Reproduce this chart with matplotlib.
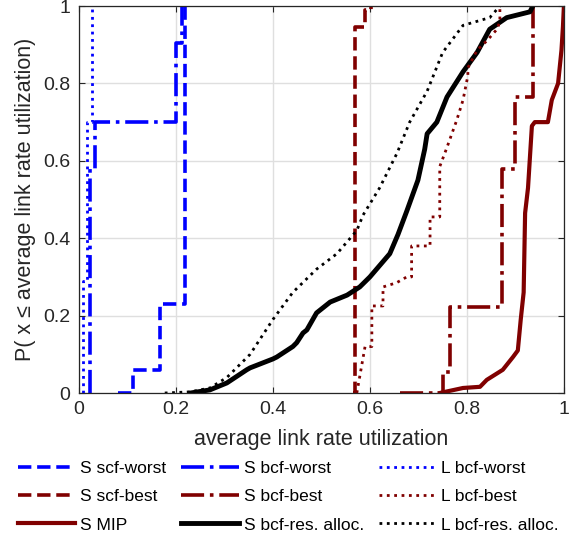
import matplotlib
matplotlib.use('Agg')
import matplotlib.pyplot as plt

plt.rcParams['font.family'] = ['Liberation Sans', 'DejaVu Sans']

blue = '#0000ff'
dred = '#800000'
txt = '#262626'

# step curves (x where the CDF jumps, level after the jump)
s_scf_worst_x = [0.080, 0.111, 0.167, 0.219]
s_scf_worst_y = [0.0, 0.06, 0.23, 1.0]

s_bcf_worst_x = [0.023, 0.023, 0.033, 0.200, 0.212]
s_bcf_worst_y = [0.0, 0.58, 0.70, 0.904, 1.0]

l_bcf_worst_x = [0.009, 0.009, 0.016, 0.028]
l_bcf_worst_y = [0.0, 0.29, 0.70, 1.0]

s_scf_best_x = [0.565, 0.569, 0.590, 0.602]
s_scf_best_y = [0.0, 0.945, 0.99, 1.0]

s_bcf_best_x = [0.662, 0.750, 0.765, 0.872, 0.899, 0.936]
s_bcf_best_y = [0.0, 0.055, 0.222, 0.58, 0.765, 1.0]

# smoother curves
l_bcf_best_x = [0.573, 0.590, 0.604, 0.604, 0.627, 0.627, 0.655, 0.676, 0.686, 0.686,
                0.718, 0.724, 0.724, 0.744, 0.744, 0.759, 0.779, 0.792, 0.802, 0.802,
                0.821, 0.841, 0.862, 0.868, 0.868]
l_bcf_best_y = [0.0, 0.12, 0.12, 0.225, 0.225, 0.274, 0.285, 0.30, 0.30, 0.38,
                0.38, 0.38, 0.455, 0.455, 0.585, 0.635, 0.705, 0.757, 0.82, 0.84,
                0.886, 0.91, 0.94, 0.96, 1.0]

s_mip_x = [0.744, 0.792, 0.827, 0.841, 0.874, 0.895, 0.905, 0.911, 0.917, 0.920,
           0.926, 0.934, 0.940, 0.967, 0.975, 0.988, 0.995, 0.998, 1.0]
s_mip_y = [0.0, 0.013, 0.016, 0.034, 0.06, 0.093, 0.11, 0.19, 0.26, 0.465,
           0.53, 0.69, 0.70, 0.70, 0.757, 0.80, 0.886, 0.946, 1.0]

s_res_x = [0.230, 0.270, 0.305, 0.346, 0.353, 0.400, 0.408, 0.441, 0.449, 0.462,
           0.470, 0.490, 0.497, 0.518, 0.553, 0.579, 0.600, 0.641, 0.658, 0.676,
           0.699, 0.713, 0.718, 0.738, 0.759, 0.792, 0.821, 0.847, 0.882, 0.930,
           0.936]
s_res_y = [0.0, 0.008, 0.026, 0.06, 0.065, 0.088, 0.093, 0.12, 0.13, 0.155,
           0.163, 0.207, 0.214, 0.235, 0.253, 0.274, 0.30, 0.36, 0.41, 0.47,
           0.55, 0.63, 0.67, 0.70, 0.765, 0.83, 0.88, 0.94, 0.97, 0.985,
           1.0]

l_res_x = [0.177, 0.230, 0.270, 0.305, 0.353, 0.400, 0.441, 0.490, 0.532, 0.573,
           0.586, 0.620, 0.656, 0.682, 0.718, 0.750, 0.792, 0.847, 0.868]
l_res_y = [0.0, 0.003, 0.013, 0.04, 0.10, 0.19, 0.26, 0.32, 0.36, 0.42,
           0.46, 0.53, 0.62, 0.70, 0.78, 0.88, 0.95, 0.97, 1.0]

ticks = [0, 0.2, 0.4, 0.6, 0.8, 1]
tick_labels = ['0', '0.2', '0.4', '0.6', '0.8', '1']

fig = plt.figure(figsize=(5.76, 5.38), dpi=100)
ax = fig.add_axes([0.137, 0.2695, 0.842, 0.7193])

h1, = ax.plot(s_scf_worst_x, s_scf_worst_y, '--', color=blue, lw=2.6, drawstyle='steps-post', label='S scf-worst')
h2, = ax.plot(s_scf_best_x, s_scf_best_y, '--', color=dred, lw=2.6, drawstyle='steps-post', label='S scf-best')
h3, = ax.plot(s_mip_x, s_mip_y, '-', color=dred, lw=3.0, label='S MIP')
h4, = ax.plot(s_bcf_worst_x, s_bcf_worst_y, '-.', color=blue, lw=2.6, drawstyle='steps-post', label='S bcf-worst')
h5, = ax.plot(s_bcf_best_x, s_bcf_best_y, '-.', color=dred, lw=2.6, drawstyle='steps-post', label='S bcf-best')
h6, = ax.plot(s_res_x, s_res_y, '-', color='black', lw=3.5, label='S bcf-res. alloc.')
h7, = ax.plot(l_bcf_worst_x, l_bcf_worst_y, ':', color=blue, lw=2.0, drawstyle='steps-post', label='L bcf-worst')
h8, = ax.plot(l_bcf_best_x, l_bcf_best_y, ':', color=dred, lw=2.0, label='L bcf-best')
h9, = ax.plot(l_res_x, l_res_y, ':', color='black', lw=2.0, label='L bcf-res. alloc.')

ax.set_xlim(0, 1)
ax.set_ylim(0, 1)
ax.set_xticks(ticks)
ax.set_xticklabels(tick_labels)
ax.set_yticks(ticks)
ax.set_yticklabels(tick_labels)
ax.grid(True, color='#dfdfdf', lw=1.0)
ax.set_axisbelow(True)
ax.tick_params(direction='in', length=4, width=0.8, top=True, right=True,
               labelsize=14, colors=txt, pad=6)
for s in ax.spines.values():
    s.set_color(txt)
    s.set_linewidth(0.9)

ax.set_xlabel('average link rate utilization', fontsize=15.5, color=txt, labelpad=8)
ax.set_ylabel('P( x \u2264 average link rate utilization)', fontsize=15.5, color=txt, labelpad=5)

fig.legend(handles=[h1, h2, h3, h4, h5, h6, h7, h8, h9], ncol=3, frameon=False,
           loc='upper left', bbox_to_anchor=(0.031, 0.143), borderaxespad=0,
           borderpad=0, fontsize=12.5, handlelength=3.3, handletextpad=0.3,
           columnspacing=0.85, labelspacing=0.75, labelcolor='black')

fig.savefig('out.png', dpi=100)
